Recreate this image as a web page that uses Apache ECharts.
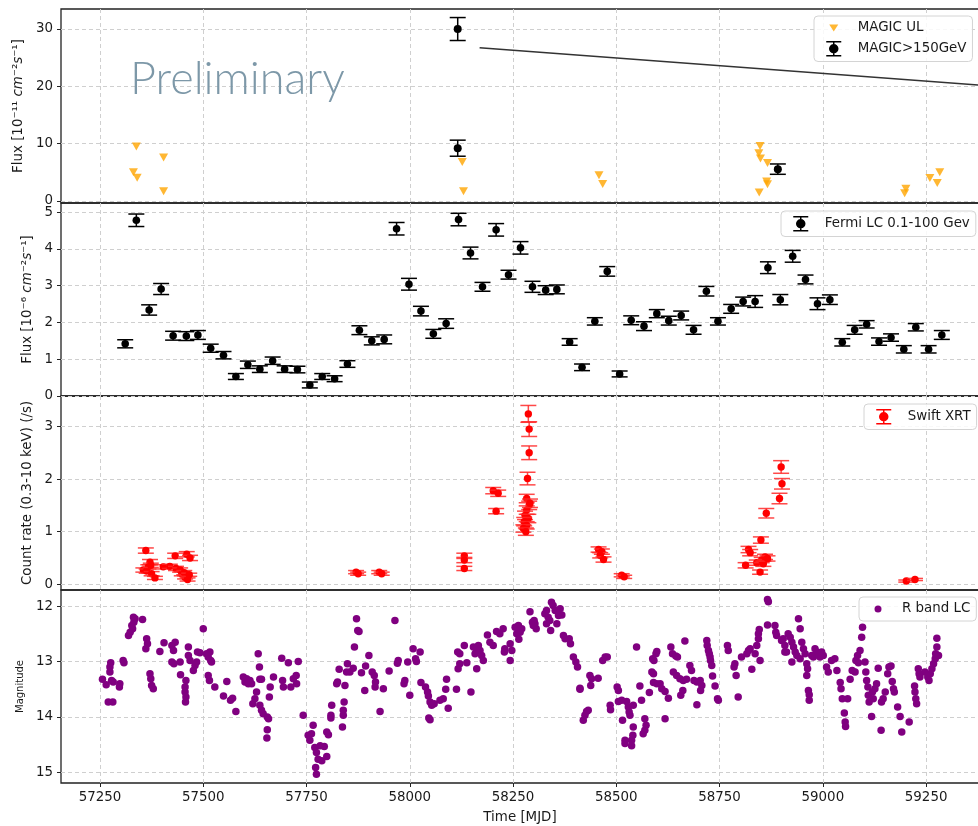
<!DOCTYPE html>
<html><head><meta charset="utf-8">
<script src="https://cdn.jsdelivr.net/npm/echarts@6/dist/echarts.min.js"></script>
<style>html,body{margin:0;padding:0;background:#fff}#c{width:978px;height:826px}</style>
</head><body><div id="c"></div>
<script>
// ---- tick values ----
const xTicks = [57250, 57500, 57750, 58000, 58250, 58500, 58750, 59000, 59250];
const magicTicks = [0, 10, 20, 30];
const fermiTicks = [0, 1, 2, 3, 4, 5];
const swiftTicks = [0, 1, 2, 3];
const rTicks = [12, 13, 14, 15];

// ---- MAGIC upper limits [MJD, flux 1e-11] ----
const magicUL = [
  [57338, 9.5], [57331, 5.0], [57340, 4.07], [57404, 7.56], [57404, 1.7],
  [58127, 6.8], [58130, 1.7], [58458, 4.48], [58467, 2.97],
  [58848, 9.6], [58845, 8.3], [58849, 7.4], [58866, 6.6], [58864, 3.4], [58866, 2.9], [58846, 1.5],
  [59201, 2.15], [59198, 1.35], [59259, 4.0], [59277, 3.14], [59283, 5.0]
];
// ---- MAGIC detections [MJD, flux, err] ----
const magicDet = [[58116, 29.96, 2.0], [58116, 9.2, 1.4], [58891, 5.55, 0.9]];
// annotation line (points towards an inset outside the figure)
const annotationLine = [[58169, 26.7], [59378, 20.2]];

// ---- Fermi LC [MJD, flux 1e-6, err] ----
const fermi = [
  [57311,1.42,0.11],[57338,4.78,0.17],[57369,2.34,0.14],[57398,2.91,0.15],[57427,1.64,0.12],
  [57459,1.63,0.12],[57487,1.66,0.12],[57518,1.30,0.11],[57549,1.11,0.10],[57579,0.53,0.08],
  [57608,0.85,0.10],[57637,0.73,0.09],[57668,0.96,0.10],[57697,0.73,0.09],[57728,0.72,0.09],
  [57758,0.30,0.08],[57788,0.53,0.08],[57818,0.47,0.08],[57849,0.87,0.09],[57878,1.79,0.12],
  [57908,1.50,0.11],[57938,1.54,0.12],[57968,4.55,0.17],[57998,3.04,0.16],[58027,2.31,0.13],
  [58057,1.69,0.12],[58088,1.97,0.13],[58118,4.80,0.17],[58147,3.89,0.16],[58176,2.97,0.12],
  [58209,4.52,0.17],[58239,3.30,0.12],[58268,4.03,0.17],[58297,2.97,0.15],[58329,2.88,0.12],
  [58356,2.90,0.12],[58387,1.47,0.09],[58417,0.78,0.09],[58448,2.03,0.10],[58478,3.39,0.13],
  [58508,0.60,0.08],[58536,2.06,0.12],[58567,1.90,0.12],[58598,2.24,0.11],[58627,2.05,0.12],
  [58657,2.19,0.12],[58687,1.80,0.12],[58718,2.85,0.13],[58746,2.03,0.10],[58778,2.37,0.12],
  [58807,2.57,0.12],[58836,2.57,0.16],[58867,3.49,0.16],[58897,2.62,0.14],[58927,3.80,0.16],
  [58958,3.17,0.12],[58987,2.51,0.16],[59017,2.62,0.13],[59047,1.46,0.10],[59077,1.80,0.12],
  [59106,1.95,0.10],[59136,1.48,0.10],[59165,1.59,0.10],[59196,1.27,0.10],[59225,1.87,0.10],
  [59256,1.27,0.10],[59288,1.66,0.12]
];

// ---- Swift XRT [MJD, count rate, err] ----
const swift = [
  [57361,0.64,0.05],[57371,0.42,0.05],[57367,0.33,0.04],[57355,0.27,0.04],[57363,0.25,0.04],
  [57375,0.20,0.04],[57383,0.12,0.03],[57373,0.36,0.04],[57403,0.33,0.04],[57419,0.34,0.04],
  [57432,0.54,0.05],[57434,0.30,0.04],[57444,0.27,0.04],[57448,0.20,0.04],[57454,0.22,0.04],
  [57460,0.57,0.05],[57468,0.50,0.05],[57456,0.13,0.03],[57462,0.09,0.03],[57466,0.18,0.03],
  [57870,0.23,0.03],[57875,0.20,0.03],[57926,0.23,0.03],[57932,0.20,0.03],
  [58132,0.54,0.05],[58132,0.46,0.05],[58132,0.30,0.04],
  [58202,1.78,0.06],[58214,1.73,0.06],[58209,1.39,0.05],
  [58287,3.24,0.16],[58289,2.95,0.14],[58289,2.50,0.13],[58285,2.01,0.12],[58283,1.63,0.08],
  [58289,1.50,0.08],[58283,1.41,0.08],[58279,1.31,0.08],[58287,1.25,0.08],[58277,1.19,0.08],
  [58283,1.12,0.07],[58275,1.06,0.07],[58281,1.00,0.07],[58291,1.54,0.08],
  [58457,0.66,0.05],[58465,0.62,0.05],[58461,0.55,0.05],[58469,0.47,0.05],
  [58513,0.17,0.03],[58519,0.14,0.03],
  [58813,0.36,0.05],[58820,0.66,0.06],[58824,0.60,0.06],[58850,0.84,0.06],[58863,1.35,0.09],
  [58895,1.63,0.10],[58901,1.91,0.10],[58899,2.23,0.12],[58840,0.41,0.05],[58852,0.46,0.05],
  [58860,0.52,0.05],[58848,0.23,0.04],[58856,0.39,0.05],[58866,0.49,0.05],
  [59202,0.06,0.02],[59223,0.09,0.02]
];

// ---- R band LC [MJD, magnitude] ----
const rband = [
  [57256,13.32],[57265,13.42],[57270,13.73],[57274,13.19],[57274,13.10],[57276,13.02],[57278,13.34],[57281,13.73],[57282,13.37],[57298,13.40],
  [57297,13.46],[57306,12.98],[57308,13.02],[57319,12.53],[57323,12.47],[57327,12.35],[57331,12.20],[57332,12.29],[57329,12.41],[57335,12.23],
  [57353,12.24],[57363,12.59],[57365,12.68],[57361,12.77],[57371,13.22],[57373,13.31],[57375,13.43],[57379,13.49],[57395,12.82],[57405,12.66],
  [57424,12.71],[57428,12.80],[57432,12.65],[57424,13.01],[57429,13.04],[57444,13.01],[57445,13.24],[57458,13.34],[57456,13.46],[57456,13.55],
  [57458,13.64],[57457,13.73],[57464,12.74],[57464,12.89],[57468,12.98],[57476,13.16],[57480,13.07],[57484,13.01],[57486,12.83],[57492,12.84],
  [57500,12.41],[57508,12.86],[57512,12.92],[57516,12.83],[57518,12.98],[57520,13.01],[57512,13.25],[57515,13.34],[57528,13.46],[57549,13.62],
  [57557,13.36],[57566,13.70],[57571,13.66],[57579,13.90],[57597,13.28],[57601,13.37],[57605,13.31],[57609,13.40],[57613,13.34],[57617,13.40],
  [57620,13.76],[57625,13.67],[57629,13.55],[57633,12.86],[57636,13.10],[57637,13.32],[57641,13.32],[57637,13.79],[57641,13.88],[57645,13.94],
  [57655,14.00],[57658,14.03],[57655,14.23],[57654,14.38],[57660,13.64],[57662,13.46],[57670,13.28],[57690,12.94],[57692,13.34],[57694,13.46],
  [57706,13.02],[57712,13.46],[57718,13.31],[57725,13.25],[57730,13.00],
  [57726,13.40],[57742,13.97],[57754,14.33],[57758,14.42],[57766,14.15],[57762,14.30],[57770,14.55],[57774,14.64],[57778,14.76],[57783,14.52],
  [57793,14.53],[57799,14.71],[57787,14.79],[57772,14.91],[57774,15.03],[57799,14.27],[57803,14.32],[57809,13.97],[57809,14.02],[57811,13.79],
  [57823,13.40],[57825,13.37],[57829,13.14],[57839,13.88],[57839,13.97],[57841,13.73],[57837,14.18],[57843,13.43],[57849,13.04],[57847,13.19],
  [57855,13.19],[57863,13.12],[57866,12.74],[57871,12.23],[57874,12.44],[57877,12.46],[57883,13.20],[57891,13.52],[57893,13.08],[57901,12.89],
  [57909,13.19],[57914,13.25],[57916,13.46],[57917,13.37],[57928,13.90],[57936,13.49],[57950,13.17],[57964,12.26],[57972,12.98],[57970,13.03],
  [57988,13.34],[57986,13.40],[57995,13.01],[58000,13.61],[58008,12.77],[58014,12.95],[58016,13.00],[58025,12.83],[58027,13.38],[58038,13.46],
  [58043,13.55],[58045,13.62],[58049,13.73],[58053,13.79],[58049,14.05],[58046,14.02],[58059,13.76],[58073,13.70],[58081,13.67],[58089,13.32],
  [58087,13.50],[58093,13.84],[58113,13.50],[58117,13.13],[58121,13.04],[58116,12.83],[58121,12.86],[58132,12.71],[58138,13.02],[58148,13.55],
  [58154,12.74],[58158,12.86],[58162,12.78],[58166,12.71],[58162,13.13],[58170,12.80],[58174,12.89],[58178,12.98],[58188,12.52],[58194,12.65],
  [58202,12.71],[58210,12.46],[58218,12.50],[58226,12.41],[58230,12.77],[58229,12.83],[58243,12.98],[58243,12.68],[58247,12.80],[58255,12.38],
  [58259,12.50],[58263,12.35],[58267,12.47],[58271,12.41],[58264,12.60],[58291,12.10],[58297,12.29],[58299,12.35],
  [58301,12.26],[58306,12.41],[58303,12.32],[58327,12.14],[58331,12.08],[58335,12.20],[58339,12.26],[58343,11.93],[58347,11.99],[58352,12.08],
  [58356,12.32],[58360,12.17],[58364,12.05],[58368,12.16],[58331,12.32],[58341,12.44],[58372,12.53],[58376,12.59],[58386,12.59],[58389,12.68],
  [58396,12.92],[58402,13.01],[58406,13.10],[58412,13.48],[58412,13.50],[58420,14.06],[58424,13.97],[58428,13.90],[58432,13.88],[58436,13.25],
  [58440,13.31],[58438,13.43],[58456,13.30],[58467,12.98],[58473,12.92],[58478,12.92],[58485,13.79],[58486,13.87],[58502,13.46],[58505,13.52],
  [58505,13.72],[58513,13.70],[58515,14.06],[58525,13.72],[58529,13.82],[58531,13.91],[58533,13.97],[58541,13.79],[58521,14.42],[58521,14.48],
  [58537,14.42],[58537,14.52],[58541,14.18],[58540,14.33],[58549,12.74],[58557,13.44],[58561,13.70],[58569,14.03],[58572,14.15],[58569,14.24],
  [58565,14.30],[58580,13.56],[58586,13.19],[58590,13.22],[58588,12.95],[58591,12.98],[58596,12.86],[58598,12.82],[58590,13.38],[58598,13.40],
  [58606,13.40],[58610,13.49],[58618,13.54],[58626,13.66],[58618,14.03],[58632,12.74],[58636,12.86],[58644,12.90],[58648,12.92],[58638,13.19],
  [58646,13.25],[58654,13.31],[58662,13.34],[58670,13.32],[58666,12.63],[58661,13.52],[58656,13.61],[58678,13.07],[58682,13.16],[58688,13.34],
  [58695,13.37],[58703,13.34],[58707,13.43],[58704,13.52],[58695,13.78],[58719,12.62],[58720,12.71],[58723,12.80],[58725,12.86],[58727,12.92],
  [58728,12.98],[58731,13.07],[58733,13.26],[58739,13.44],[58747,13.70],[58745,13.67],[58769,12.71],[58771,12.80],[58785,13.10],[58787,13.04],
  [58790,13.25],[58795,13.64],[58803,12.92],[58816,12.86],[58820,12.80],[58824,12.77],[58828,13.14],[58836,12.86],[58840,12.71],[58844,12.59],
  [58848,12.98],[58846,12.42],[58844,12.50],[58866,11.88],[58868,11.92],[58866,12.34],
  [58884,12.35],[58886,12.47],[58888,12.53],[58900,12.62],[58904,12.59],[58908,12.71],[58912,12.83],[58916,12.50],[58921,12.56],[58925,12.65],
  [58929,12.74],[58933,12.83],[58937,12.89],[58941,12.23],[58945,12.41],[58949,12.65],[58953,12.77],[58957,12.86],[58945,12.95],[58925,13.01],
  [58908,12.83],[58961,13.04],[58963,13.13],[58961,13.25],[58965,13.52],[58967,13.60],[58967,13.70],[58973,12.89],[58977,12.92],[58981,12.77],
  [58985,12.83],[58989,12.86],[58993,12.92],[58997,12.83],[59001,12.89],[59009,13.10],[59013,13.19],[59021,12.98],[59029,12.95],[59034,13.16],
  [59042,13.38],[59044,13.49],[59047,13.67],[59052,13.93],[59054,14.09],[59055,14.17],[59060,13.67],[59066,13.32],[59071,13.16],[59078,13.19],
  [59080,12.98],[59084,12.89],[59090,12.80],[59094,12.56],[59096,12.38],[59086,13.02],[59102,13.01],[59104,13.19],[59106,13.34],[59109,13.46],
  [59110,13.61],[59112,13.73],[59118,13.99],[59120,13.55],[59122,13.67],[59126,13.49],[59130,13.40],[59134,13.12],[59141,14.24],[59142,13.73],
  [59146,13.67],[59151,13.55],[59157,13.22],[59160,13.10],[59165,13.08],[59168,13.36],[59171,13.49],[59173,13.55],[59181,13.82],[59187,13.99],
  [59191,14.27],[59209,14.09],[59222,13.44],[59223,13.55],[59225,13.67],[59227,13.76],[59231,13.13],[59233,13.22],[59235,13.28],[59247,13.19],
  [59254,13.28],[59257,13.34],[59260,13.22],[59264,13.13],[59268,13.04],[59272,12.95],[59273,12.86],[59276,12.74],[59276,12.58],[59280,12.89]
];

// ---------------- chart ----------------
const FONT = 'DejaVu Sans';
const TXT = '#1a1a1a';
const FS = 13.4;
const X_MIN = 57155.6, X_MAX = 59378;

const grids = [
  {left: 61, right: -1, top: 9, height: 194},
  {left: 61, right: -1, top: 203, height: 193},
  {left: 61, right: -1, top: 396, height: 194},
  {left: 61, right: -1, top: 590, height: 193}
].map(g => Object.assign(g, {show: true, borderColor: '#222', borderWidth: 1.3, backgroundColor: 'transparent', containLabel: false, outerBoundsMode: 'none'}));

const dashed = {show: true, lineStyle: {color: '#cfcfcf', type: [4, 3], width: 1}};

function xAxis(i) {
  const last = i === 3;
  return {
    type: 'value', gridIndex: i, min: X_MIN, max: X_MAX,
    axisLine: {show: false},
    axisTick: {show: last, customValues: xTicks, length: 4, lineStyle: {color: '#222', width: 1}},
    axisLabel: {show: last, customValues: xTicks, margin: 8, color: TXT, fontSize: FS, fontFamily: FONT,
      formatter: v => String(v)},
    splitLine: dashed,
    name: last ? 'Time [MJD]' : '', nameLocation: 'middle', nameGap: 28,
    nameTextStyle: {color: TXT, fontSize: FS, fontFamily: FONT}
  };
}
function yAxis(i, min, max, ticks, name, gap, extra) {
  return Object.assign({
    type: 'value', gridIndex: i, min: min, max: max,
    axisLine: {show: false},
    axisTick: {show: true, customValues: ticks, length: 4, lineStyle: {color: '#222', width: 1}},
    axisLabel: {customValues: ticks, margin: 8, color: TXT, fontSize: FS, fontFamily: FONT, formatter: v => String(v)},
    splitLine: dashed,
    name: name, nameLocation: 'middle', nameRotate: 90, nameGap: gap,
    nameTextStyle: {color: TXT, fontSize: FS, fontFamily: FONT,
      rich: {i: {fontStyle: 'italic', fontSize: FS, fontFamily: FONT, color: TXT}}}
  }, extra || {});
}

function errBar(dotColor, barColor, capHalf, r) {
  return function (params, api) {
    const x = api.value(0), y = api.value(1), e = api.value(2);
    const c = api.coord([x, y]);
    const hi = api.coord([x, y + e]);
    const lo = api.coord([x, y - e]);
    const ls = {stroke: barColor, lineWidth: 1.5};
    return {type: 'group', children: [
      {type: 'line', shape: {x1: c[0], y1: hi[1], x2: c[0], y2: lo[1]}, style: ls},
      {type: 'line', shape: {x1: c[0] - capHalf, y1: hi[1], x2: c[0] + capHalf, y2: hi[1]}, style: ls},
      {type: 'line', shape: {x1: c[0] - capHalf, y1: lo[1], x2: c[0] + capHalf, y2: lo[1]}, style: ls},
      {type: 'circle', shape: {cx: c[0], cy: c[1], r: r}, style: {fill: dotColor}}
    ]};
  };
}

// legend handles drawn in a 38x16 box, icon centred at x=19
const ebIcon = 'path://M0,0 M38,16 M11.5,1 L26.5,1 M19,1 L19,15 M11.5,15 L26.5,15 M23,8 A4,4 0 1 1 15,8 A4,4 0 1 1 23,8 Z';
const triIcon = 'path://M0,0 M38,16 M14.5,4.5 L23.5,4.5 L19,11.5 Z';
const dotIcon = 'path://M0,0 M38,16 M22.5,8 A3.5,3.5 0 1 1 15.5,8 A3.5,3.5 0 1 1 22.5,8 Z';

function legend(left, top, items) {
  return {
    left: left, top: top, orient: 'vertical', itemWidth: 38, itemHeight: 16, itemGap: 4,
    symbolKeepAspect: false,
    padding: [4, 6, 4, 0], backgroundColor: 'rgba(255,255,255,0.85)', borderColor: '#d4d4d4',
    borderWidth: 1, borderRadius: 4, selectedMode: false,
    textStyle: {color: TXT, fontSize: FS, fontFamily: FONT},
    data: items
  };
}

const option = {
  animation: false,
  backgroundColor: '#fff',
  grid: grids,
  xAxis: [0, 1, 2, 3].map(xAxis),
  yAxis: [
    yAxis(0, -0.35, 33.45, magicTicks, 'Flux [10⁻¹¹ {i|cm}⁻²{i|s}⁻¹]', 33),
    yAxis(1, 0, 5.25, fermiTicks, 'Flux [10⁻⁶ {i|cm}⁻²{i|s}⁻¹]', 26),
    yAxis(2, -0.11, 3.58, swiftTicks, 'Count rate (0.3-10 keV) (/s)', 24),
    yAxis(3, 11.71, 15.19, rTicks, 'Magnitude', 34, {inverse: true,
      nameTextStyle: {color: TXT, fontSize: 10, fontFamily: FONT}})
  ],
  legend: [
    legend(814, 16, [
      {name: 'MAGIC UL', icon: triIcon, itemStyle: {color: '#FFA500', borderWidth: 0}},
      {name: 'MAGIC>150GeV', icon: ebIcon, itemStyle: {color: '#000', borderColor: '#000', borderWidth: 1.5}}
    ]),
    legend(781, 211, [
      {name: 'Fermi LC 0.1-100 Gev', icon: ebIcon, itemStyle: {color: '#000', borderColor: '#000', borderWidth: 1.5}}
    ]),
    legend(864, 404, [
      {name: 'Swift XRT', icon: ebIcon, itemStyle: {color: '#ff0000', borderColor: '#ff0000', borderWidth: 1.5}}
    ]),
    legend(859, 597, [
      {name: 'R band LC', icon: dotIcon, itemStyle: {color: '#800080', borderWidth: 0}}
    ])
  ],
  graphic: [{
    type: 'text', left: 130, top: 57, z: 5, silent: true,
    style: {text: 'Preliminary', fontSize: 45, fontFamily: 'Lato', fontWeight: 300, fill: '#7d98a8'}
  }],
  series: [
    {name: 'MAGIC UL', type: 'scatter', xAxisIndex: 0, yAxisIndex: 0, data: magicUL,
      symbol: 'triangle', symbolRotate: 180, symbolSize: [9, 8], itemStyle: {color: '#FFA500'}, silent: true},
    {name: 'MAGIC>150GeV', type: 'custom', xAxisIndex: 0, yAxisIndex: 0, data: magicDet,
      encode: {x: 0, y: 1}, itemStyle: {color: '#000'}, renderItem: errBar('#000', '#000', 8, 4), silent: true},
    {name: 'annotation', type: 'line', xAxisIndex: 0, yAxisIndex: 0, data: annotationLine,
      showSymbol: false, symbol: 'none', lineStyle: {color: '#333', width: 1.5}, silent: true, z: 1},
    {name: 'Fermi LC 0.1-100 Gev', type: 'custom', xAxisIndex: 1, yAxisIndex: 1, data: fermi,
      encode: {x: 0, y: 1}, itemStyle: {color: '#000'}, renderItem: errBar('#000', '#000', 8, 3.8), silent: true},
    {name: 'Swift XRT', type: 'custom', xAxisIndex: 2, yAxisIndex: 2, data: swift,
      encode: {x: 0, y: 1}, itemStyle: {color: '#ff0000'}, renderItem: errBar('#ff0000', 'rgba(255,40,40,0.85)', 8, 3.7), silent: true},
    {name: 'R band LC', type: 'scatter', xAxisIndex: 3, yAxisIndex: 3, data: rband,
      symbol: 'circle', symbolSize: 7.5, itemStyle: {color: '#800080', opacity: 1}, silent: true}
  ]
};

const chart = echarts.init(document.getElementById('c'), null, {renderer: 'canvas'});
chart.setOption(option);
</script>
</body></html>
